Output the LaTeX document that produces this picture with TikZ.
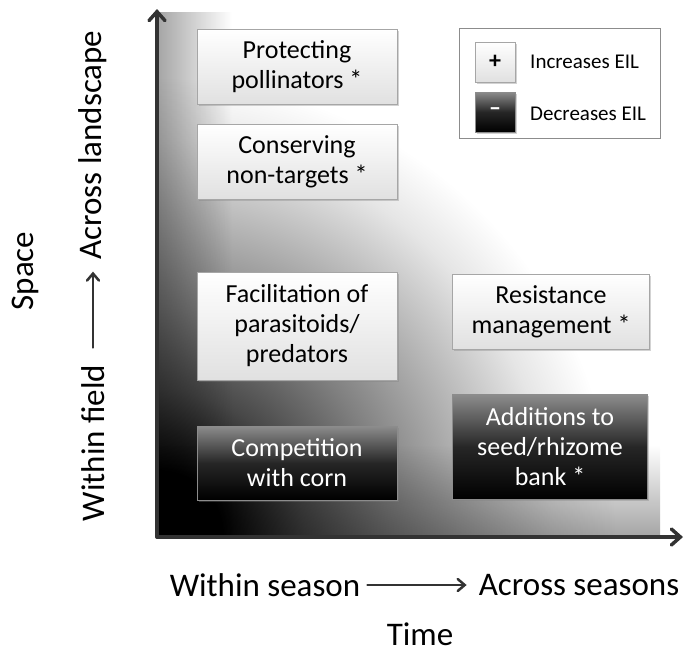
\documentclass[tikz,border=0pt]{standalone}
\usepackage{fontspec}
\setmainfont{Carlito}
\usetikzlibrary{arrows.meta,shadows}

\pgfdeclareradialshading{cornerglow}{\pgfpoint{0bp}{0bp}}{color(0bp)=(black); color(3bp)=(black); color(7bp)=(black!72); color(11bp)=(black!50); color(15bp)=(black!30); color(19bp)=(black!10); color(22bp)=(white); color(50bp)=(white)}

\tikzstyle{axis}=[line width=3.5pt,draw=black!80,-{Straight Barb[length=9pt,width=16pt,line cap=round]},line cap=round]
\tikzstyle{labelarrow}=[axis,line width=2.5pt,-{Straight Barb[length=7pt,width=12pt,line cap=round]}]
\tikzstyle{lightbox}=[draw=black!35,line width=0.8pt,top color=white,bottom color=black!12,
  drop shadow={shadow xshift=1.5pt,shadow yshift=-1.5pt,opacity=0.35},
  align=center,font=\fontsize{26}{30}\selectfont,inner sep=0pt]
\tikzstyle{darkbox}=[draw=black!45,line width=0.8pt,top color=black!45,bottom color=black,middle color=black!85,
  drop shadow={shadow xshift=1.5pt,shadow yshift=-1.5pt,opacity=0.35},
  text=white,align=center,font=\fontsize{26}{30}\selectfont,inner sep=0pt]
\tikzstyle{axislabel}=[font=\fontsize{33}{36}\selectfont,inner sep=0pt]
\tikzstyle{legendtext}=[font=\fontsize{21}{24}\selectfont,anchor=west,inner sep=0pt]
\tikzstyle{edgefade}=[blend mode=multiply]

\begin{document}
\begin{tikzpicture}[x=1pt,y=-1pt]
\useasboundingbox (0,0) rectangle (687,654);
% shaded plane
\begin{scope}
\clip (158,12) rectangle (660,535);
\shade[shading=cornerglow] (158,535) circle (520);
\shade[edgefade,left color=black!35,right color=white] (158,12) rectangle (232,535);
\shade[edgefade,bottom color=black!35,top color=white] (158,445) rectangle (660,535);
\end{scope}

% boxes
\node[lightbox,minimum width=200pt,minimum height=75pt] (pollin) at (297,67) {Protecting\\pollinators *};
\node[lightbox,minimum width=200pt,minimum height=75pt] (nontarget) at (297,162) {Conserving\\non-targets *};
\node[lightbox,minimum width=200pt,minimum height=108pt] (parasit) at (297,326) {Facilitation of\\parasitoids/\\predators};
\node[lightbox,minimum width=197pt,minimum height=75pt] (resist) at (551,312) {Resistance\\management *};
\node[darkbox,minimum width=200pt,minimum height=74pt] (corn) at (297,463) {Competition\\with corn};
\node[darkbox,minimum width=195pt,minimum height=105pt] (seedbank) at (550,447) {Additions to\\seed/rhizome\\bank *};

% legend
\node[draw=black!45,line width=0.8pt,fill=white,minimum width=201pt,minimum height=110pt] (legend) at (559.5,83) {};
\node[lightbox,minimum width=40pt,minimum height=40pt,font=\fontsize{24}{24}\selectfont\bfseries] (plus) at (495,62) {+};
\node[darkbox,minimum width=40pt,minimum height=40pt,font=\fontsize{24}{24}\selectfont\bfseries] (minus) at (495,112) {--};
\node[legendtext] (incr) at (530,62) {Increases EIL};
\node[legendtext] (decr) at (530,114) {Decreases EIL};

% axes
\coordinate (origin) at (157,537);
\coordinate (ytip) at (157,9);
\coordinate (xtip) at (683,537);
\draw[axis] (origin) -- (ytip);
\draw[axis] (origin) -- (xtip);

% axis labels
\node[axislabel] (wseason) at (265,585) {Within season};
\node[axislabel] (aseason) at (579,585) {Across seasons};
\draw[labelarrow] ([xshift=7pt]wseason.east) -- ([xshift=-12pt]aseason.west);
\node[axislabel] (time) at (420,634) {Time};
\node[axislabel,rotate=90] (wfield) at (93,443) {Within field};
\node[axislabel,rotate=90] (alandscape) at (93,145) {Across landscape};
\draw[labelarrow] ([yshift=17pt]wfield.east) -- ([yshift=-12pt]alandscape.west);
\node[axislabel,rotate=90] (space) at (25,271) {Space};
\end{tikzpicture}
\end{document}
